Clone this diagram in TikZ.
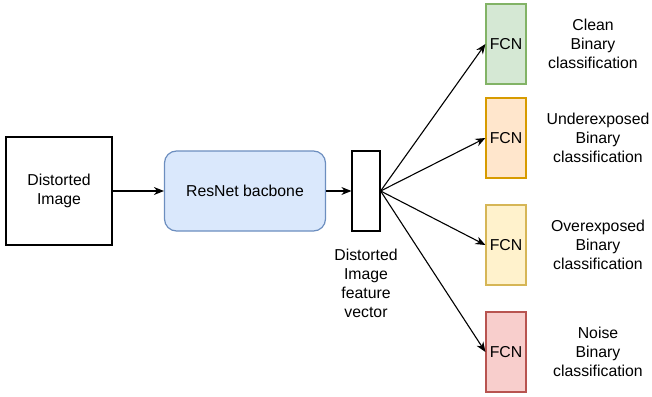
\documentclass[tikz,border=0pt]{standalone}
\usepackage{fontspec}
\setmainfont{Liberation Sans}
\usetikzlibrary{shapes.geometric, arrows.meta}
\definecolor{bluefill}{HTML}{DAE8FC}
\definecolor{bluedraw}{HTML}{6C8EBF}
\definecolor{greenfill}{HTML}{D5E8D4}
\definecolor{greendraw}{HTML}{82B366}
\definecolor{orangefill}{HTML}{FFE6CC}
\definecolor{orangedraw}{HTML}{D79B00}
\definecolor{yellowfill}{HTML}{FFF2CC}
\definecolor{yellowdraw}{HTML}{D6B656}
\definecolor{redfill}{HTML}{F8CECC}
\definecolor{reddraw}{HTML}{B85450}
\tikzstyle{inputbox} = [rectangle, minimum width=106pt, minimum height=108pt, text centered, align=center, draw=black, line width=1.2pt]
\tikzstyle{backbone} = [rectangle, rounded corners=12pt, minimum width=161pt, minimum height=80pt, text centered, draw=bluedraw, fill=bluefill, line width=1.2pt]
\tikzstyle{vecbox} = [rectangle, minimum width=28pt, minimum height=80pt, draw=black, line width=1.2pt]
\tikzstyle{fcn} = [rectangle, minimum width=40pt, minimum height=80pt, text centered, line width=1.2pt]
\tikzstyle{label} = [text centered, align=center]
\tikzstyle{arrow} = [line width=1.1pt, -{Stealth[length=10pt, width=8pt]}]

\begin{document}
\begin{tikzpicture}[x=1pt, y=-1pt, font=\fontsize{15.8}{19}\selectfont]
	\useasboundingbox (0,0) rectangle (652,396);
	\node (img) [inputbox] at (59,191) {Distorted\\Image};
	\node (res) [backbone, right of=img, node distance=186pt] {ResNet bacbone};
	\node (vec) [vecbox, right of=res, node distance=121pt] {};
	\node (veclabel) [label, below of=vec, node distance=92pt] {Distorted\\Image\\feature\\vector};
	\node (clean) [fcn, draw=greendraw, fill=greenfill, right of=vec, node distance=140pt, yshift=147pt] {FCN};
	\node (under) [fcn, draw=orangedraw, fill=orangefill, right of=vec, node distance=140pt, yshift=53pt] {FCN};
	\node (over) [fcn, draw=yellowdraw, fill=yellowfill, right of=vec, node distance=140pt, yshift=-54pt] {FCN};
	\node (noise) [fcn, draw=reddraw, fill=redfill, right of=vec, node distance=140pt, yshift=-161pt] {FCN};
	\node (cleanlabel) [label, right of=clean, node distance=87pt] {Clean\\Binary\\classification};
	\node (underlabel) [label, right of=under, node distance=92pt] {Underexposed\\Binary\\classification};
	\node (overlabel) [label, right of=over, node distance=92pt] {Overexposed\\Binary\\classification};
	\node (noiselabel) [label, right of=noise, node distance=92pt] {Noise\\Binary\\classification};
	\draw [arrow] (img) -- (res);
	\draw [arrow] (res) -- (vec);
	\draw [arrow] (vec.east) -- (clean.west);
	\draw [arrow] (vec.east) -- (under.west);
	\draw [arrow] (vec.east) -- (over.west);
	\draw [arrow] (vec.east) -- (noise.west);
\end{tikzpicture}
\end{document}
